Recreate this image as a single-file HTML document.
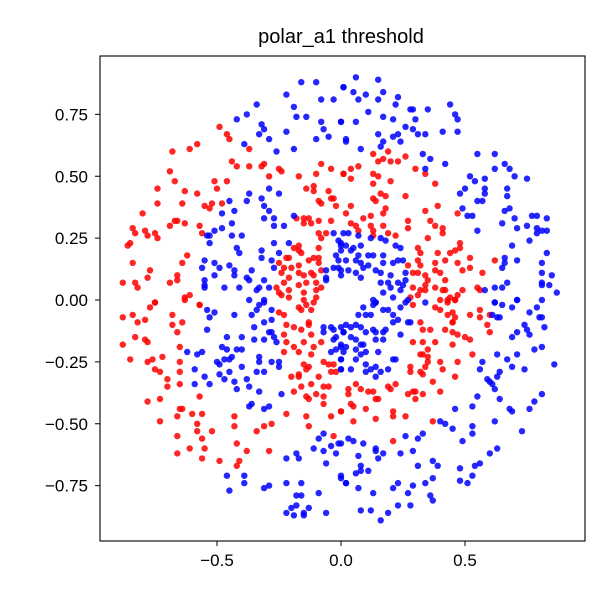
<!DOCTYPE html>
<html><head><meta charset="utf-8"><style>
body{margin:0;background:#fff;}
svg{display:block;font-family:"Liberation Sans","DejaVu Sans",sans-serif;}
</style></head><body>
<svg id="chart" width="600" height="600" viewBox="0 0 600 600">
<rect width="600" height="600" fill="#fff"/>
<text x="341" y="43" text-anchor="middle" font-size="20" fill="#000">polar_a1 threshold</text>
<g id="points"></g>
<rect x="100" y="56" width="485" height="485" fill="none" stroke="#000" stroke-width="1.1"/>
<g id="xticks"></g>
<g id="yticks"></g>
</svg>
<script>
const xTicks = [-0.5, 0.0, 0.5];
const xTickLabels = ["\u22120.5", "0.0", "0.5"];
const yTicks = [0.75, 0.5, 0.25, 0.0, -0.25, -0.5, -0.75];
const yTickLabels = ["0.75", "0.50", "0.25", "0.00", "\u22120.25", "\u22120.50", "\u22120.75"];
const bluePts = [
[-0.16,0.88],[-0.10,0.88],[0.01,0.86],[-0.22,0.83],[-0.08,0.81],[-0.03,0.81],[-0.19,0.78],[-0.34,0.79],[-0.38,0.75],[-0.42,0.73],[-0.14,0.74],[-0.18,0.74],[-0.08,0.72],[0.00,0.72],[-0.32,0.71],[-0.31,0.69],[-0.07,0.69],[-0.22,0.68],[-0.33,0.67],[-0.29,0.65],[-0.10,0.65],[-0.05,0.66],[-0.39,0.63],[-0.26,0.60],[-0.19,0.61],[-0.25,0.43],[-0.37,0.43],[-0.29,0.45],[-0.38,0.40],[-0.32,0.41],[-0.31,0.38],[-0.45,0.40],[-0.43,0.36],[-0.48,0.35],[-0.29,0.36],[-0.27,0.33],[-0.31,0.33],[-0.19,0.34],[-0.44,0.31],[-0.23,0.30],[-0.27,0.30],[-0.48,0.29],[-0.51,0.28],[-0.54,0.26],[-0.53,0.26],[-0.44,0.26],[-0.40,0.26],[-0.53,0.23],[-0.27,0.23],[-0.21,0.23],[-0.42,0.21],[-0.41,0.19],[-0.32,0.20],[-0.32,0.17],[-0.25,0.19],[-0.55,0.16],[-0.51,0.15],[-0.45,0.14],[-0.56,0.13],[-0.49,0.13],[-0.43,0.12],[-0.43,0.10],[-0.51,0.10],[-0.55,0.08],[-0.55,0.06],[-0.55,0.05],[-0.47,0.05],[-0.41,0.05],[-0.38,0.09],[-0.36,0.12],[-0.37,0.08],[-0.33,0.05],[-0.34,0.04],[-0.31,0.08],[-0.28,0.16],[-0.27,0.13],[-0.29,0.05],[-0.37,0.00],[-0.31,0.00],[-0.03,0.27],[-0.01,0.24],[0.00,0.22],[-0.02,0.18],[-0.01,0.16],[-0.03,0.13],[-0.06,0.12],[-0.01,0.13],[-0.06,0.09],[0.00,0.10],[-0.06,0.08],
[0.06,0.90],[0.15,0.89],[0.01,0.86],[0.05,0.84],[0.10,0.83],[0.17,0.84],[0.23,0.82],[0.07,0.81],[0.15,0.81],[0.22,0.79],[0.11,0.76],[0.28,0.77],[0.29,0.77],[0.35,0.77],[0.44,0.79],[0.46,0.75],[0.47,0.73],[0.00,0.72],[0.06,0.72],[0.17,0.74],[0.21,0.73],[0.30,0.73],[0.47,0.68],[0.41,0.68],[0.34,0.67],[0.31,0.67],[0.29,0.69],[0.26,0.70],[0.23,0.67],[0.21,0.66],[0.24,0.64],[0.15,0.67],[0.17,0.64],[0.16,0.62],[0.02,0.65],[0.02,0.64],[0.08,0.61],[0.33,0.59],[0.36,0.57],[0.34,0.53],[0.42,0.55],[0.55,0.59],[0.62,0.59],[0.66,0.55],[0.68,0.53],[0.62,0.53],[0.70,0.50],[0.75,0.49],[0.52,0.50],[0.58,0.49],[0.54,0.48],[0.50,0.45],[0.48,0.43],[0.58,0.45],[0.58,0.43],[0.67,0.45],[0.67,0.42],[0.55,0.40],[0.57,0.40],[0.49,0.37],[0.51,0.34],[0.53,0.34],[0.66,0.36],[0.68,0.37],[0.70,0.33],[0.77,0.34],[0.79,0.34],[0.83,0.33],[0.65,0.31],[0.71,0.29],[0.75,0.30],[0.79,0.29],[0.79,0.27],[0.81,0.28],[0.83,0.28],[0.76,0.24],[0.55,0.28],[0.69,0.22],[0.83,0.19],[0.66,0.17],[0.66,0.15],[0.71,0.16],[0.65,0.13],[0.81,0.15],[0.81,0.11],[0.85,0.10],[0.67,0.07],[0.62,0.05],[0.65,0.05],[0.81,0.07],[0.81,0.06],[0.84,0.06],[0.87,0.03],[0.81,0.00],[0.71,0.00],[0.62,-0.01],[0.58,0.04],[0.01,0.27],[0.03,0.27],[0.07,0.26],[0.16,0.25],[0.18,0.24],[0.22,0.22],[0.24,0.21],[0.00,0.23],[0.02,0.22],[0.05,0.21],[0.08,0.22],[0.12,0.25],[0.00,0.20],[0.04,0.20],[0.07,0.18],[0.11,0.18],[0.13,0.18],[0.17,0.18],[0.17,0.15],[0.21,0.15],[0.23,0.16],[0.25,0.16],[0.02,0.16],[0.06,0.16],[0.08,0.15],[0.09,0.13],[0.11,0.14],[0.14,0.12],[0.16,0.11],[0.20,0.10],[0.26,0.11],[0.00,0.12],[0.03,0.12],[0.06,0.11],[0.08,0.09],[0.16,0.07],[0.19,0.07],[0.23,0.07],[0.26,0.08],[0.20,0.05],[0.17,0.03],[0.21,0.01],[0.24,0.04],[0.25,0.06],[0.27,0.00],[0.13,0.00],[0.14,-0.01],[0.34,-0.01],
[-0.54,-0.04],[-0.51,-0.05],[-0.53,-0.07],[-0.43,-0.06],[-0.54,-0.12],[-0.36,-0.06],[-0.35,-0.11],[-0.34,-0.04],[-0.33,-0.02],[-0.31,-0.01],[-0.28,-0.04],[-0.31,-0.09],[-0.28,-0.08],[-0.29,-0.13],[-0.28,-0.13],[-0.27,-0.15],[-0.26,-0.17],[-0.31,-0.16],[-0.35,-0.16],[-0.46,-0.15],[-0.40,-0.15],[-0.48,-0.19],[-0.46,-0.20],[-0.42,-0.20],[-0.40,-0.20],[-0.62,-0.21],[-0.58,-0.22],[-0.56,-0.21],[-0.50,-0.25],[-0.49,-0.26],[-0.47,-0.24],[-0.45,-0.24],[-0.44,-0.23],[-0.45,-0.29],[-0.49,-0.30],[-0.40,-0.27],[-0.59,-0.28],[-0.55,-0.31],[-0.59,-0.34],[-0.53,-0.34],[-0.47,-0.32],[-0.43,-0.33],[-0.38,-0.32],[-0.42,-0.36],[-0.37,-0.35],[-0.33,-0.23],[-0.33,-0.25],[-0.34,-0.29],[-0.31,-0.29],[-0.28,-0.25],[-0.25,-0.25],[-0.25,-0.27],[-0.33,-0.37],[-0.24,-0.38],[-0.37,-0.43],[-0.36,-0.42],[-0.31,-0.44],[-0.29,-0.43],[-0.07,-0.11],[-0.07,-0.13],[-0.04,-0.11],[-0.03,-0.12],[0.00,-0.11],[-0.02,-0.15],[0.01,-0.13],[-0.03,-0.16],[0.00,-0.18],[-0.04,-0.21],[-0.02,-0.20],[0.01,-0.21],[0.00,-0.24],[0.00,-0.28],[-0.07,-0.54],[-0.09,-0.56],[-0.04,-0.59],[-0.01,-0.58],[-0.11,-0.60],[-0.07,-0.61],[-0.02,-0.62],[-0.18,-0.62],[-0.17,-0.64],[-0.22,-0.64],[-0.06,-0.66],[0.00,-0.71],[0.02,-0.74],[-0.46,-0.71],[-0.39,-0.71],[-0.39,-0.74],[-0.45,-0.77],[-0.31,-0.76],[-0.29,-0.75],[-0.22,-0.74],[-0.16,-0.74],[-0.18,-0.79],[-0.16,-0.79],[-0.09,-0.78],[-0.20,-0.84],[-0.18,-0.83],[-0.13,-0.84],[-0.22,-0.86],[-0.19,-0.87],[-0.15,-0.87],[-0.15,-0.86],[-0.06,-0.86],
[0.09,-0.03],[0.13,-0.02],[0.14,-0.01],[0.17,-0.04],[0.19,-0.04],[0.21,-0.06],[0.24,-0.03],[0.26,-0.01],[0.10,-0.06],[0.12,-0.06],[0.07,-0.06],[0.21,-0.09],[0.23,-0.08],[0.27,-0.09],[0.28,-0.09],[0.02,-0.10],[0.04,-0.11],[0.06,-0.10],[0.08,-0.11],[0.10,-0.13],[0.13,-0.12],[0.14,-0.13],[0.17,-0.13],[0.18,-0.12],[0.24,-0.14],[0.01,-0.13],[0.04,-0.15],[0.06,-0.16],[0.08,-0.18],[0.09,-0.18],[0.14,-0.16],[0.17,-0.16],[0.00,-0.19],[0.02,-0.19],[0.06,-0.20],[0.10,-0.21],[0.15,-0.21],[0.06,-0.24],[0.08,-0.22],[0.10,-0.26],[0.00,-0.24],[0.00,-0.28],[0.04,-0.28],[0.10,-0.29],[0.12,-0.28],[0.14,-0.27],[0.16,-0.29],[0.19,-0.28],[0.21,-0.24],[0.22,-0.24],[0.14,-0.31],[0.62,-0.01],[0.65,-0.02],[0.69,-0.03],[0.71,0.00],[0.79,-0.03],[0.76,-0.05],[0.61,-0.06],[0.63,-0.07],[0.64,-0.07],[0.80,-0.07],[0.81,-0.07],[0.82,-0.11],[0.74,-0.10],[0.75,-0.12],[0.76,-0.14],[0.69,-0.15],[0.71,-0.13],[0.81,-0.19],[0.78,-0.20],[0.63,-0.22],[0.67,-0.24],[0.71,-0.22],[0.57,-0.25],[0.56,-0.28],[0.69,-0.27],[0.74,-0.28],[0.86,-0.26],[0.64,-0.29],[0.63,-0.31],[0.59,-0.32],[0.60,-0.33],[0.61,-0.34],[0.62,-0.36],[0.64,-0.40],[0.55,-0.39],[0.53,-0.43],[0.46,-0.44],[0.68,-0.44],[0.69,-0.45],[0.76,-0.44],[0.78,-0.41],[0.81,-0.38],[0.40,-0.49],[0.42,-0.50],[0.45,-0.52],[0.53,-0.51],[0.53,-0.54],[0.62,-0.49],[0.73,-0.53],[0.33,-0.54],[0.31,-0.56],[0.26,-0.55],[0.49,-0.57],[0.60,-0.62],[0.63,-0.60],[0.03,-0.56],[0.05,-0.57],[0.09,-0.58],[0.00,-0.58],[0.14,-0.60],[0.14,-0.61],[0.17,-0.62],[0.15,-0.64],[0.07,-0.63],[0.08,-0.67],[0.08,-0.69],[0.06,-0.70],[0.11,-0.69],[0.24,-0.62],[0.29,-0.61],[0.31,-0.67],[0.37,-0.65],[0.39,-0.67],[0.37,-0.72],[0.48,-0.68],[0.48,-0.73],[0.51,-0.74],[0.53,-0.71],[0.54,-0.67],[0.56,-0.66],[0.00,-0.72],[0.02,-0.74],[0.07,-0.76],[0.21,-0.76],[0.23,-0.74],[0.29,-0.75],[0.34,-0.74],[0.27,-0.78],[0.36,-0.79],[0.37,-0.81],[0.13,-0.78],[0.28,-0.83],[0.23,-0.83],[0.08,-0.85],[0.12,-0.85],[0.19,-0.86],[0.16,-0.89]
];
const redPts = [
[-0.49,0.70],[-0.46,0.67],[-0.45,0.65],[-0.58,0.63],[-0.61,0.61],[-0.68,0.60],[-0.37,0.61],[-0.69,0.52],[-0.44,0.56],[-0.42,0.54],[-0.37,0.54],[-0.32,0.54],[-0.31,0.55],[-0.25,0.53],[-0.24,0.52],[-0.29,0.50],[-0.08,0.55],[-0.17,0.50],[-0.10,0.51],[-0.04,0.53],[0.01,0.51],[-0.67,0.48],[-0.51,0.48],[-0.46,0.48],[-0.50,0.45],[-0.74,0.45],[-0.63,0.44],[-0.58,0.43],[-0.74,0.39],[-0.64,0.39],[-0.55,0.38],[-0.52,0.39],[-0.53,0.37],[-0.48,0.39],[-0.80,0.35],[-0.14,0.45],[-0.11,0.46],[-0.11,0.44],[-0.05,0.44],[-0.04,0.41],[-0.03,0.41],[-0.09,0.40],[-0.08,0.39],[-0.02,0.38],[-0.84,0.29],[-0.83,0.27],[-0.79,0.28],[-0.78,0.26],[-0.75,0.27],[-0.74,0.25],[-0.69,0.30],[-0.67,0.32],[-0.66,0.32],[-0.63,0.31],[-0.57,0.30],[-0.56,0.27],[-0.18,0.33],[-0.15,0.33],[-0.13,0.33],[-0.09,0.32],[-0.15,0.31],[-0.12,0.31],[-0.04,0.32],[-0.09,0.27],[-0.06,0.27],[-0.08,0.25],[-0.86,0.22],[-0.85,0.23],[-0.62,0.18],[-0.64,0.15],[-0.84,0.15],[-0.77,0.12],[-0.78,0.09],[-0.88,0.07],[-0.83,0.07],[-0.82,0.05],[-0.69,0.07],[-0.66,0.10],[-0.66,0.08],[-0.19,0.21],[-0.17,0.22],[-0.17,0.20],[-0.16,0.19],[-0.22,0.17],[-0.21,0.17],[-0.25,0.15],[-0.23,0.13],[-0.24,0.11],[-0.20,0.13],[-0.17,0.14],[-0.13,0.16],[-0.11,0.17],[-0.09,0.17],[-0.09,0.21],[-0.09,0.15],[-0.08,0.12],[-0.17,0.11],[-0.15,0.10],[-0.12,0.11],[-0.11,0.10],[-0.21,0.09],[-0.23,0.07],[-0.14,0.07],[-0.10,0.07],[-0.08,0.05],[-0.10,0.04],[-0.26,0.05],[-0.25,0.03],[-0.21,0.04],[-0.17,0.06],[-0.15,0.03],[-0.24,0.02],[-0.21,0.01],[-0.15,0.00],[-0.10,0.01],[-0.63,0.01],[-0.61,0.02],[-0.75,-0.01],[-0.57,-0.02],
[0.13,0.59],[0.19,0.60],[0.15,0.56],[0.17,0.57],[0.20,0.56],[0.23,0.56],[0.26,0.58],[0.30,0.53],[0.34,0.51],[0.01,0.51],[0.04,0.53],[0.07,0.54],[0.04,0.49],[0.13,0.51],[0.15,0.50],[0.13,0.47],[0.20,0.48],[0.38,0.47],[0.16,0.43],[0.18,0.42],[0.13,0.41],[0.14,0.40],[0.26,0.42],[0.04,0.38],[0.02,0.35],[0.18,0.37],[0.12,0.34],[0.17,0.35],[0.09,0.33],[0.04,0.31],[0.06,0.30],[0.07,0.28],[0.12,0.30],[0.13,0.28],[0.13,0.26],[0.17,0.30],[0.19,0.27],[0.22,0.26],[0.27,0.32],[0.27,0.29],[0.34,0.36],[0.39,0.38],[0.47,0.35],[0.36,0.32],[0.38,0.30],[0.41,0.29],[0.41,0.27],[0.35,0.25],[0.31,0.21],[0.32,0.19],[0.39,0.19],[0.44,0.19],[0.46,0.20],[0.48,0.23],[0.48,0.21],[0.42,0.16],[0.47,0.15],[0.52,0.17],[0.52,0.13],[0.49,0.12],[0.57,0.11],[0.62,0.16],[0.31,0.16],[0.32,0.14],[0.27,0.14],[0.29,0.11],[0.31,0.11],[0.38,0.15],[0.38,0.12],[0.40,0.11],[0.34,0.10],[0.35,0.08],[0.34,0.06],[0.42,0.08],[0.29,0.05],[0.32,0.04],[0.34,0.04],[0.38,0.05],[0.41,0.04],[0.42,0.04],[0.28,0.01],[0.31,0.02],[0.40,0.00],[0.44,0.01],[0.47,0.02],[0.49,0.04],[0.55,0.05],[0.56,0.04],[0.43,0.00],[0.46,0.00],
[-0.75,-0.01],[-0.77,-0.03],[-0.63,0.00],[-0.57,-0.02],[-0.88,-0.07],[-0.84,-0.06],[-0.82,-0.09],[-0.79,-0.08],[-0.68,-0.06],[-0.68,-0.10],[-0.64,-0.09],[-0.66,-0.13],[-0.83,-0.15],[-0.79,-0.16],[-0.78,-0.17],[-0.88,-0.18],[-0.65,-0.19],[-0.85,-0.24],[-0.78,-0.25],[-0.76,-0.24],[-0.72,-0.23],[-0.65,-0.25],[-0.75,-0.28],[-0.73,-0.29],[-0.70,-0.32],[-0.65,-0.29],[-0.70,-0.35],[-0.65,-0.34],[-0.57,-0.39],[-0.73,-0.40],[-0.78,-0.41],[-0.65,-0.44],[-0.64,-0.44],[-0.66,-0.47],[-0.60,-0.46],[-0.56,-0.46],[-0.73,-0.49],[-0.58,-0.50],[-0.58,-0.53],[-0.52,-0.53],[-0.66,-0.55],[-0.56,-0.56],[-0.66,-0.62],[-0.61,-0.60],[-0.55,-0.60],[-0.56,-0.64],[-0.49,-0.65],[-0.41,-0.65],[-0.42,-0.67],[-0.43,-0.47],[-0.43,-0.51],[-0.42,-0.58],[-0.38,-0.61],[-0.34,-0.53],[-0.31,-0.51],[-0.28,-0.50],[-0.29,-0.61],[-0.22,-0.46],[-0.14,-0.47],[-0.13,-0.51],[-0.04,-0.47],[0.00,-0.45],[-0.03,-0.55],[-0.25,-0.05],[-0.23,-0.06],[-0.22,-0.10],[-0.19,-0.11],[-0.17,-0.03],[-0.16,-0.04],[-0.14,-0.02],[-0.12,-0.04],[-0.11,-0.01],[-0.13,-0.09],[-0.13,-0.10],[-0.16,-0.12],[-0.23,-0.14],[-0.19,-0.19],[-0.22,-0.17],[-0.23,-0.21],[-0.17,-0.21],[-0.15,-0.17],[-0.12,-0.14],[-0.11,-0.19],[-0.12,-0.22],[-0.08,-0.17],[-0.15,-0.26],[-0.14,-0.28],[-0.13,-0.27],[-0.07,-0.25],[-0.05,-0.26],[-0.03,-0.26],[-0.04,-0.29],[-0.02,-0.29],[-0.20,-0.31],[-0.17,-0.30],[-0.17,-0.31],[-0.09,-0.31],[-0.19,-0.37],[-0.16,-0.35],[-0.12,-0.34],[-0.07,-0.35],[-0.05,-0.35],[-0.14,-0.39],[-0.13,-0.40],[-0.10,-0.38],[-0.07,-0.39],[-0.07,-0.42],
[0.29,-0.02],[0.38,-0.03],[0.40,-0.04],[0.43,-0.01],[0.46,0.00],[0.43,-0.06],[0.45,-0.05],[0.46,-0.07],[0.45,-0.09],[0.45,-0.09],[0.52,-0.06],[0.56,-0.04],[0.56,-0.07],[0.60,-0.06],[0.59,-0.10],[0.60,-0.13],[0.32,-0.09],[0.33,-0.12],[0.36,-0.12],[0.42,-0.12],[0.45,-0.13],[0.47,-0.14],[0.50,-0.15],[0.52,-0.16],[0.29,-0.17],[0.33,-0.17],[0.38,-0.17],[0.45,-0.18],[0.53,-0.22],[0.35,-0.20],[0.32,-0.22],[0.33,-0.22],[0.35,-0.23],[0.35,-0.25],[0.34,-0.27],[0.40,-0.25],[0.47,-0.25],[0.41,-0.28],[0.28,-0.27],[0.28,-0.29],[0.32,-0.29],[0.33,-0.30],[0.46,-0.31],[0.37,-0.33],[0.06,-0.34],[0.03,-0.36],[0.03,-0.38],[0.08,-0.36],[0.11,-0.37],[0.13,-0.37],[0.14,-0.40],[0.15,-0.40],[0.19,-0.35],[0.20,-0.36],[0.22,-0.34],[0.27,-0.38],[0.29,-0.37],[0.30,-0.37],[0.33,-0.38],[0.30,-0.40],[0.40,-0.37],[0.04,-0.42],[0.05,-0.43],[0.10,-0.44],[0.00,-0.45],[0.21,-0.45],[0.21,-0.47],[0.14,-0.48],[0.26,-0.47],[0.05,-0.49],[0.37,-0.49],[0.21,-0.57]
];
const NS = "http://www.w3.org/2000/svg";
const X0 = 341, XS = 248, Y0 = 300, YS = 247.5;
function sx(v){ return X0 + v * XS; }
function sy(v){ return Y0 - v * YS; }
const layer = document.getElementById('points');
function drawSeries(pts, color, name){
  for (const p of pts){
    const c = document.createElementNS(NS, 'circle');
    c.setAttribute('cx', sx(p[0]).toFixed(1));
    c.setAttribute('cy', sy(p[1]).toFixed(1));
    c.setAttribute('r', '3.2');
    c.setAttribute('fill', color);
    c.setAttribute('fill-opacity', '0.85');
    
    
    layer.appendChild(c);
  }
}
drawSeries(redPts, '#ff0000', 'red-point');
drawSeries(bluePts, '#0000ff', 'blue-point');
const xg = document.getElementById('xticks');
xTicks.forEach((v, i) => {
  const l = document.createElementNS(NS, 'line');
  l.setAttribute('x1', sx(v)); l.setAttribute('x2', sx(v));
  l.setAttribute('y1', 541); l.setAttribute('y2', 546);
  l.setAttribute('stroke', '#000');
  
  
  xg.appendChild(l);
  const t = document.createElementNS(NS, 'text');
  t.setAttribute('x', sx(v)); t.setAttribute('y', 566);
  t.setAttribute('text-anchor', 'middle'); t.setAttribute('font-size', '17');
  t.textContent = xTickLabels[i];
  
  
  xg.appendChild(t);
});
const yg = document.getElementById('yticks');
yTicks.forEach((v, i) => {
  const l = document.createElementNS(NS, 'line');
  l.setAttribute('x1', 95); l.setAttribute('x2', 100);
  l.setAttribute('y1', sy(v)); l.setAttribute('y2', sy(v));
  l.setAttribute('stroke', '#000');
  
  
  yg.appendChild(l);
  const t = document.createElementNS(NS, 'text');
  t.setAttribute('x', 88); t.setAttribute('y', sy(v) + 6);
  t.setAttribute('text-anchor', 'end'); t.setAttribute('font-size', '17');
  t.textContent = yTickLabels[i];
  
  
  yg.appendChild(t);
});
</script>
</body></html>
